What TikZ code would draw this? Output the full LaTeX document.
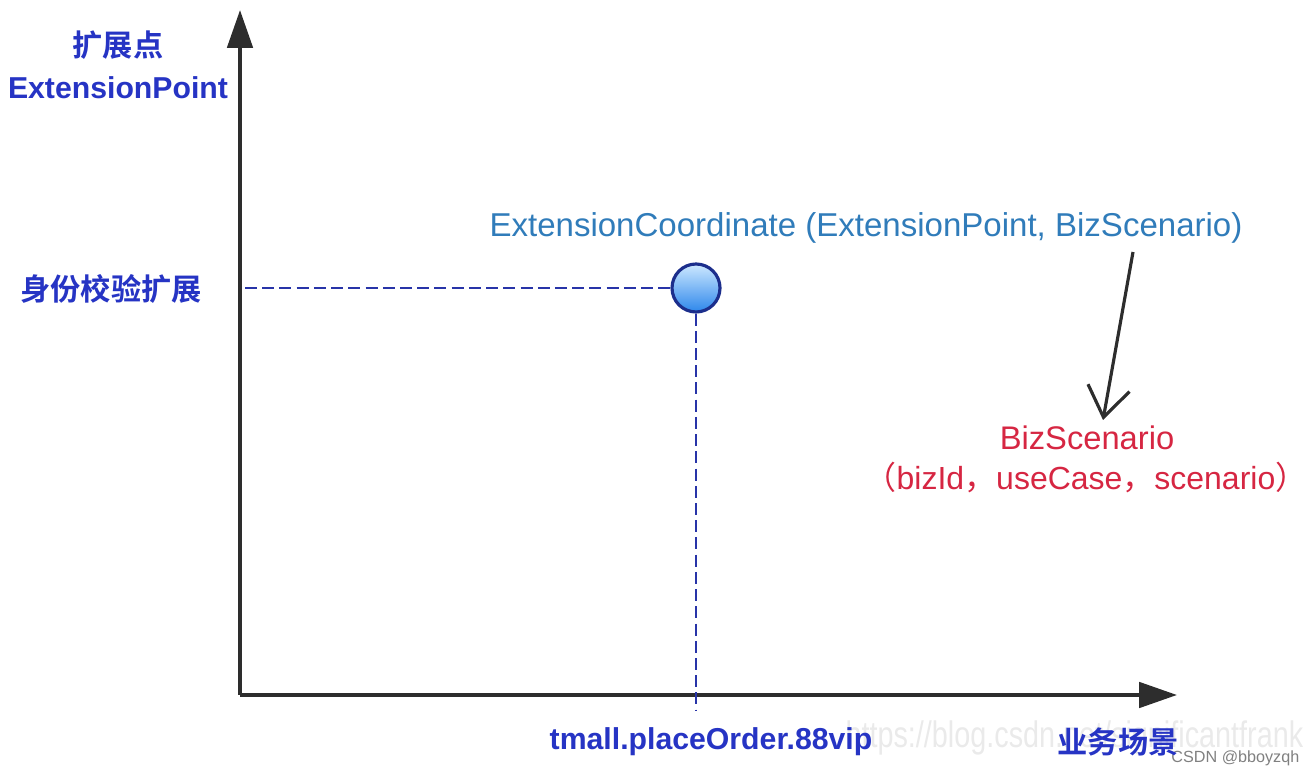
\documentclass[tikz,border=0pt]{standalone}
\usepackage{fontspec}
\setmainfont{Liberation Sans}
\newfontfamily\cjk{Noto Sans CJK SC}[BoldFont={Noto Sans CJK SC Bold}]
\usetikzlibrary{arrows.meta, positioning}
\usepackage{xcolor}
\definecolor{lblue}{RGB}{38,52,196}
\definecolor{sblue}{RGB}{48,124,186}
\definecolor{lred}{RGB}{214,38,66}
\definecolor{dblue}{RGB}{40,52,168}
\definecolor{axisgray}{RGB}{45,45,45}

\begin{document}
\begin{tikzpicture}
\useasboundingbox (0,0) rectangle (13.14,7.74);
\tikzset{
  axis/.style={draw=axisgray, line width=1.15pt, -{Triangle[length=10.8pt, width=7.2pt]}},
  guide/.style={draw=dblue, line width=0.6pt, dash pattern=on 3.4pt off 1.5pt},
  axlabel/.style={text=lblue, font=\bfseries\fontsize{8.6}{10}\selectfont, inner sep=0pt},
  point/.style={circle, minimum size=0.48cm, inner sep=0pt, draw={rgb,255:red,28;green,46;blue,140}, line width=0.9pt,
    top color={rgb,255:red,205;green,232;blue,255}, bottom color={rgb,255:red,45;green,135;blue,235}},
}
\def\ox{2.40}
\def\oy{0.79}
%watermark
\node[anchor=west, text={rgb,255:red,234;green,234;blue,234}, font=\fontsize{10.5}{12}\selectfont, xscale=0.78, transform shape, inner sep=0pt] (wm) at (8.45, 0.36) {https://blog.csdn.net/significantfrank};
\node[anchor=east, text=gray, font=\fontsize{4.6}{5}\selectfont, inner sep=0pt] (csdn) at (13.00, 0.16) {CSDN @bboyzqh};
%axes
\coordinate (O) at (\ox, \oy);
\coordinate (ytip) at (\ox, 7.64);
\coordinate (xtip) at (11.77, \oy);
\draw[axis] (O) -- (ytip);
\draw[axis] (O) -- (xtip);
%axis labels
\node[axlabel] (ycn) at (1.18, 7.29) {\cjk 扩展点};
\node[axlabel] (yen) at (1.18, 6.86) {ExtensionPoint};
\node[axlabel] (xcn) at (11.18, 0.32) {\cjk 业务场景};
%point
\node[point] (pt) at (6.96, 4.86) {};
\coordinate (yt) at (2.45, 4.86);
\coordinate (xt) at (6.96, 0.64);
\draw[guide] (yt) -- (pt.west);
\draw[guide] (pt.south) -- (xt);
\node[axlabel] (ylab) at (1.11, 4.85) {\cjk 身份校验扩展};
\node[axlabel] (xlab) at (7.11, 0.32) {tmall.placeOrder.88vip};
%coordinate label
\node[text=sblue, font=\fontsize{9.4}{11}\selectfont, inner sep=0pt] (coord) at (8.66, 5.46) {ExtensionCoordinate (ExtensionPoint, BizScenario)};
\node[text=lred, font=\fontsize{9.3}{11}\selectfont, inner sep=0pt] (biz) at (10.87, 3.36) {BizScenario};
\node[text=lred, font=\fontsize{9.1}{11}\selectfont, inner sep=0pt] (bizarg) at (10.86, 2.96) {{\cjk （}bizId{\cjk ，}useCase{\cjk ，}scenario{\cjk ）}};
\coordinate (from) at (11.33, 5.22);
\coordinate (to) at (11.03, 3.54);
\draw[axisgray, line width=0.9pt, -{Straight Barb[length=8.5pt, width=12pt]}] (from) -- (to);
\end{tikzpicture}
\end{document}
